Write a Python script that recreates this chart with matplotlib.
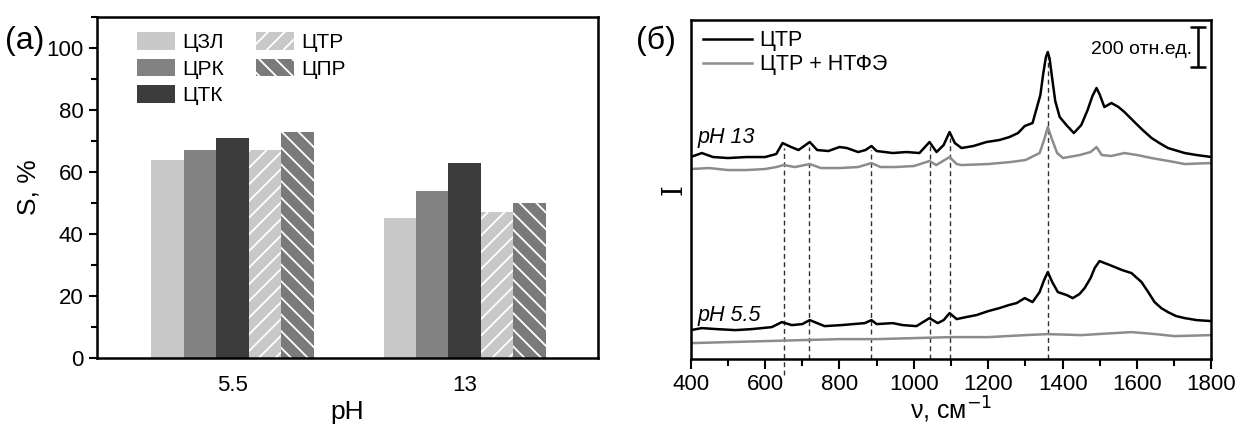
import numpy as np
import matplotlib
matplotlib.use("Agg")
import matplotlib.pyplot as plt
from matplotlib.ticker import MultipleLocator

plt.rcParams['font.family'] = ['Liberation Sans', 'DejaVu Sans']
plt.rcParams['hatch.linewidth'] = 1.3

# (a) степень очистки S, %
ph_labels = ['5.5', '13']
catalysts = ['ЦЗЛ', 'ЦРК', 'ЦТК', 'ЦТР', 'ЦПР']
s_values = {
    'ЦЗЛ': [64, 45],
    'ЦРК': [67, 54],
    'ЦТК': [71, 63],
    'ЦТР': [67, 47],
    'ЦПР': [73, 50],
}
bar_colors = ['#c8c8c8', '#828282', '#3c3c3c', '#c8c8c8', '#7a7a7a']
bar_hatch = [None, None, None, '//', '\\\\']

# (б) спектры КР, отн.ед.
nu_ctr13 = [400, 430, 460, 500, 550, 600, 630, 647, 670, 690, 720, 740, 770, 800, 820, 850,
            870, 886, 900, 943, 980, 1015, 1042, 1061, 1080, 1096, 1110, 1128, 1160, 1195,
            1230, 1257, 1280, 1298, 1319, 1340, 1348, 1355, 1360, 1365, 1372, 1380, 1392,
            1410, 1430, 1450, 1467, 1480, 1491, 1500, 1512, 1531, 1550, 1566, 1593, 1615,
            1639, 1660, 1683, 1728, 1760, 1800]
i_ctr13 = [1010, 1030, 1010, 1005, 1010, 1010, 1025, 1080, 1060, 1045, 1085, 1045, 1040, 1060,
           1055, 1035, 1045, 1065, 1040, 1030, 1035, 1030, 1085, 1035, 1070, 1135, 1080, 1055,
           1065, 1085, 1095, 1110, 1130, 1165, 1180, 1320, 1430, 1510, 1535, 1500, 1400, 1290,
           1210, 1170, 1130, 1170, 1245, 1315, 1355, 1320, 1260, 1280, 1260, 1235, 1185, 1145,
           1105, 1080, 1055, 1030, 1020, 1010]

nu_ntfe13 = [400, 450, 500, 550, 600, 630, 650, 680, 720, 750, 800, 850, 886, 910, 950, 1000,
             1042, 1060, 1096, 1115, 1128, 1200, 1260, 1300, 1338, 1350, 1360, 1370, 1385,
             1401, 1446, 1475, 1491, 1505, 1530, 1566, 1600, 1639, 1700, 1728, 1800]
i_ntfe13 = [950, 955, 945, 945, 950, 960, 970, 960, 975, 955, 955, 960, 980, 960, 960, 965,
            990, 970, 1010, 975, 970, 975, 985, 995, 1030, 1095, 1160, 1105, 1030,
            1005, 1020, 1035, 1060, 1020, 1015, 1030, 1020, 1005, 985, 975, 980]

nu_ctr55 = [400, 430, 470, 520, 564, 618, 645, 672, 700, 720, 740, 760, 805, 868, 886, 900,
            943, 970, 1007, 1042, 1064, 1080, 1096, 1115, 1140, 1168, 1200, 1230, 1255, 1276,
            1298, 1319, 1338, 1350, 1360, 1372, 1387, 1411, 1427, 1445, 1459, 1475, 1486,
            1499, 1520, 1540, 1560, 1585, 1612, 1630, 1647, 1665, 1683, 1705, 1728, 1760, 1800]
i_ctr55 = [145, 155, 150, 145, 150, 160, 185, 170, 175, 195, 180, 165, 170, 180, 195, 175,
           180, 170, 165, 205, 180, 195, 230, 200, 210, 220, 240, 255, 270, 280,
           305, 285, 335, 395, 435, 385, 335, 320, 305, 325, 355, 405, 455,
           490, 475, 460, 445, 430, 385, 335, 285, 255, 235, 215, 205, 195, 190]

nu_ntfe55 = [400, 500, 600, 700, 800, 900, 1000, 1100, 1200, 1300, 1360, 1450, 1520, 1585,
             1650, 1700, 1800]
i_ntfe55 = [80, 85, 90, 95, 100, 100, 105, 110, 110, 120, 125, 120, 128, 135, 125, 115, 120]

peak_lines = [650, 718, 885, 1042, 1098, 1360]

fig = plt.figure(figsize=(12.4, 4.25), dpi=100)

# ---- (a) ----
ax1 = fig.add_axes([0.078, 0.158, 0.404, 0.802])
x = np.arange(len(ph_labels))
w = 0.14
for k, name in enumerate(catalysts):
    ax1.bar(x + (k - 2) * w, s_values[name], w, color=bar_colors[k], hatch=bar_hatch[k],
            edgecolor='white' if bar_hatch[k] else bar_colors[k], linewidth=0, label=name)
ax1.set_xlim(-0.586, 1.573)
ax1.set_ylim(0, 110)
ax1.set_xticks(x)
ax1.set_xticklabels(ph_labels)
ax1.yaxis.set_major_locator(MultipleLocator(20))
ax1.yaxis.set_minor_locator(MultipleLocator(10))
ax1.tick_params(axis='x', length=0, labelsize=16, pad=12)
ax1.tick_params(axis='y', which='major', direction='out', length=6, width=1.5, labelsize=16)
ax1.tick_params(axis='y', which='minor', direction='out', length=4, width=1.5)
for sp in ax1.spines.values():
    sp.set_linewidth(1.8)
ax1.set_xlabel('pH', fontsize=19, labelpad=3)
ax1.set_ylabel('S, %', fontsize=19, labelpad=4)
ax1.legend(ncol=2, loc='upper left', bbox_to_anchor=(0.08, 0.955), frameon=False,
           borderpad=0, borderaxespad=0,
           fontsize=15, handlelength=1.85, handleheight=0.9, columnspacing=1.5,
           labelspacing=0.32, handletextpad=0.35)
fig.text(0.004, 0.885, '(a)', fontsize=23)

# ---- (б) ----
ax2 = fig.add_axes([0.557, 0.155, 0.420, 0.798])
ax2.plot(nu_ctr13, i_ctr13, color='black', lw=1.8, label='ЦТР')
ax2.plot(nu_ntfe13, i_ntfe13, color='#8c8c8c', lw=1.8, label='ЦТР + НТФЭ')
ax2.plot(nu_ctr55, i_ctr55, color='black', lw=1.8)
ax2.plot(nu_ntfe55, i_ntfe55, color='#8c8c8c', lw=1.8)
for nu in peak_lines:
    top = np.interp(nu, nu_ctr13, i_ctr13) - 20
    bottom = -80 if nu == 650 else 0
    ax2.plot([nu, nu], [bottom, top], ls=(0, (3.5, 2.5)), color='#303030', lw=1.0,
             clip_on=False, zorder=1)
ax2.set_xlim(400, 1800)
ax2.set_ylim(0, 1695)
ax2.xaxis.set_major_locator(MultipleLocator(200))
ax2.xaxis.set_minor_locator(MultipleLocator(100))
ax2.set_yticks([])
ax2.tick_params(axis='x', which='major', direction='out', length=7, width=1.5, labelsize=16)
ax2.tick_params(axis='x', which='minor', direction='out', length=5, width=1.5)
for sp in ax2.spines.values():
    sp.set_linewidth(1.8)
ax2.set_xlabel('ν, см$^{-1}$', fontsize=18, labelpad=0)
ax2.set_ylabel('I', fontsize=20, family='DejaVu Serif', labelpad=2)
ax2.text(419, 1110, 'pH 13', fontsize=15.5, style='italic', va='center')
ax2.text(419, 220, 'pH 5.5', fontsize=15.5, style='italic', va='center')
ax2.errorbar([1765], [1560], yerr=[100], color='black', lw=1.8, capsize=6, capthick=1.8)
ax2.text(1748, 1545, '200 отн.ед.', fontsize=14, ha='right', va='center')
ax2.legend(loc='upper left', bbox_to_anchor=(0.023, 0.97), frameon=False, fontsize=15.5,
           borderpad=0, borderaxespad=0, handlelength=2.3,
           handletextpad=0.35, labelspacing=0.15)
fig.text(0.513, 0.885, '(б)', fontsize=23)

fig.savefig('out.png', dpi=100, facecolor='white')
